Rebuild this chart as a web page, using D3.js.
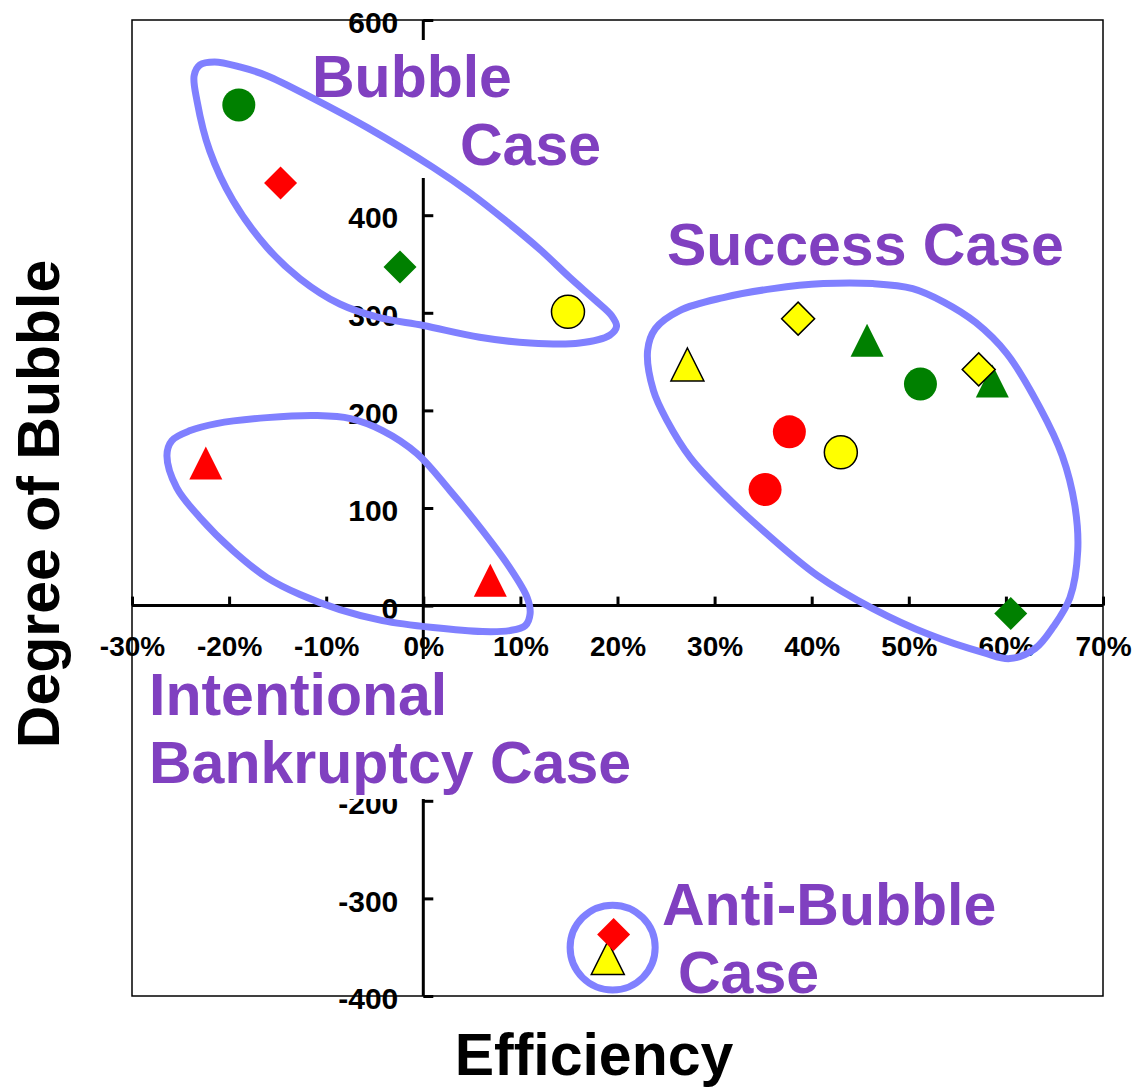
<!DOCTYPE html>
<html><head><meta charset="utf-8">
<script src="https://cdn.jsdelivr.net/npm/d3@7"></script>
<style>body{margin:0;background:#fff}</style>
</head><body>
<svg id="chart" width="1135" height="1088"></svg>
<script>
// ---------- data ----------
const xTicks = [-0.3,-0.2,-0.1,0,0.1,0.2,0.3,0.4,0.5,0.6,0.7];
const xTickLabels = ["-30%","-20%","-10%","0%","10%","20%","30%","40%","50%","60%","70%"];
const yTicks = [600,500,400,300,200,100,0,-100,-200,-300,-400];
const yTickLabels = ["600","500","400","300","200","100","0","-100","-200","-300","-400"];

// [efficiency, degree of bubble]
const yellowTriangle = [[0.272,247],[0.190,-361]];
const greenTriangle  = [[0.457,272],[0.586,230]];
const redTriangle    = [[-0.224,146],[0.069,26]];
const redCircle      = [[0.377,178],[0.352,119]];
const greenCircle    = [[-0.190,513],[0.512,227]];
const yellowCircle   = [[0.149,301],[0.430,157]];
const redDiamond     = [[-0.147,433],[0.196,-337]];
const greenDiamond   = [[-0.024,347],[0.605,-8]];
const yellowDiamond  = [[0.386,294],[0.572,242]];

// annotation outlines, [efficiency %, degree]
const bubbleOutline = [[-23.6,543],[-23.0,554],[-21.5,557],[-18.9,552],[-16.1,543],[-11.4,520],[-5.8,490],[1.0,449],[4.8,423],[8.4,395],[12.0,365],[15.1,336],[17.7,313],[19.4,297],[19.9,286],[19.2,277],[16.1,269],[11.0,269],[5.8,275],[0,287],[-4.5,295],[-8.6,309],[-12.7,335],[-16.1,367],[-19.6,415],[-22.0,466],[-23.3,517]];
const bankruptOutline = [[-26.4,153.7],[-25.9,169],[-24.0,179.3],[-21.3,186.5],[-16.1,192.6],[-10.9,194.7],[-7.5,191.6],[-4.2,179.3],[-0.65,155.7],[2.75,117.8],[6.1,76.8],[8.9,38.9],[10.7,8.2],[11.0,-8.2],[10.5,-20.5],[8.9,-25.6],[6.1,-26.6],[1.0,-22.5],[-4.2,-15.4],[-8.6,-4.1],[-12.7,11.3],[-16.1,28.7],[-19.6,56.4],[-23.0,90.2],[-25.4,120.9]];
const successOutline = [[23.1,261.3],[23.9,283.8],[26.4,302.3],[30.9,315.6],[36.0,324.8],[41.2,329.9],[46.3,329.9],[50.4,324.8],[53.6,311],[56.9,290],[60.1,258.2],[63.5,202.9],[65.8,153.7],[67.1,102.5],[67.4,56.4],[66.6,8.2],[64.9,-21.5],[63.0,-44.1],[60.4,-54.3],[57.7,-48.2],[52.1,-29.7],[46.3,-3.1],[40.6,30.7],[35.0,76.8],[30.9,114.8],[27.5,151.6],[25.1,189.5],[23.7,220.3]];
const antiBubbleCircle = [19.5, -350.4, 4.38, 43.5]; // cx %, cy, rx %, ry

const labelTexts = ["Bubble","Case","Success Case","Intentional","Bankruptcy Case","Anti-Bubble","Case"];

// ---------- layout ----------
const svg = d3.select("#chart");
const FONT = "'Liberation Sans', Arial, Helvetica, sans-serif";
const x = d3.scaleLinear().domain([-0.3,0.7]).range([132,1103]);
const y = d3.scaleLinear().domain([-400,600]).range([996,20]);

// frame
svg.append("rect").attr("x",x(-0.3)).attr("y",y(600))
  .attr("width",x(0.7)-x(-0.3)).attr("height",y(-400)-y(600))
  .attr("fill","none").attr("stroke","#000").attr("stroke-width",1.5);

// x axis
const gx = svg.append("g").attr("transform",`translate(0,${y(0)})`)
  .call(d3.axisBottom(x).tickValues(xTicks).tickFormat((d,i)=>xTickLabels[i])
    .tickSizeInner(-9).tickSizeOuter(0).tickPadding(31));
gx.select(".domain").remove();
gx.selectAll(".tick line").attr("stroke","#000").attr("stroke-width",3);
gx.selectAll(".tick text").attr("fill","#000").style("font-family",FONT)
  .style("font-weight","bold").style("font-size","28px");

// y axis
const gy = svg.append("g").attr("transform",`translate(${x(0)},0)`)
  .call(d3.axisLeft(y).tickValues(yTicks).tickFormat((d,i)=>yTickLabels[i])
    .tickSizeInner(-10).tickSizeOuter(0).tickPadding(25));
gy.select(".domain").remove();
gy.selectAll(".tick line").attr("stroke","#000").attr("stroke-width",3);
gy.selectAll(".tick text").attr("fill","#000").attr("dy","0.42em").style("font-family",FONT)
  .style("font-weight","bold").style("font-size","30px");

// axis lines (on top of tick labels)
svg.append("line").attr("x1",x(-0.3)).attr("x2",x(0.7)).attr("y1",y(0)).attr("y2",y(0))
  .attr("stroke","#000").attr("stroke-width",3);
svg.append("line").attr("x1",x(0)).attr("x2",x(0)).attr("y1",y(600)).attr("y2",y(-400))
  .attr("stroke","#000").attr("stroke-width",3);

// axis titles
svg.append("text").attr("x",594).attr("y",1075).attr("text-anchor","middle")
  .style("font-family",FONT).style("font-weight","bold").style("font-size","59px")
  .text("Efficiency");
svg.append("text").attr("transform","translate(59,504) rotate(-90)").attr("text-anchor","middle")
  .style("font-family",FONT).style("font-weight","bold").style("font-size","59px")
  .text("Degree of Bubble");

// annotation text boxes
const purple = "#8040C0";
svg.append("rect").attr("x",300).attr("y",40).attr("width",310).attr("height",138).attr("fill","#fff");
svg.append("rect").attr("x",140).attr("y",659).attr("width",505).attr("height",140).attr("fill","#fff");
const labelPos = [[312,97],[460,165],[667,265],[149,715],[149,783],[662,925],[678,993]];
svg.selectAll("text.case").data(labelTexts).join("text").attr("class","case")
  .attr("x",(d,i)=>labelPos[i][0]).attr("y",(d,i)=>labelPos[i][1])
  .attr("fill",purple).style("font-family",FONT).style("font-weight","bold").style("font-size","59px")
  .text(d=>d);

// outlines
const outlineColor = "#8080FF";
const line = d3.line().x(d=>x(d[0]/100)).y(d=>y(d[1])).curve(d3.curveCatmullRomClosed.alpha(0.5));
[bubbleOutline, bankruptOutline, successOutline].forEach(o=>{
  svg.append("path").attr("d",line(o)).attr("fill","none")
    .attr("stroke",outlineColor).attr("stroke-width",7);
});
svg.append("ellipse").attr("cx",x(antiBubbleCircle[0]/100)).attr("cy",y(antiBubbleCircle[1]))
  .attr("rx",x(antiBubbleCircle[2]/100)-x(0)).attr("ry",y(0)-y(antiBubbleCircle[3]))
  .attr("fill","none").attr("stroke",outlineColor).attr("stroke-width",7);

// markers
const M = 33;
const shapes = {
  circle: d3.symbol(d3.symbolCircle, Math.PI*(M/2)*(M/2))(),
  diamond: d3.symbol(d3.symbolSquare, (M/Math.SQRT2)*(M/Math.SQRT2))(),
  triangle: `M0,${-M/2}L${M/2},${M/2}L${-M/2},${M/2}Z`
};
const series = [
  {data:yellowTriangle, shape:"triangle", color:"#FFFF00", stroke:true},
  {data:greenTriangle,  shape:"triangle", color:"#008000", stroke:false},
  {data:redTriangle,    shape:"triangle", color:"#FF0000", stroke:false},
  {data:redCircle,      shape:"circle",   color:"#FF0000", stroke:false},
  {data:greenCircle,    shape:"circle",   color:"#008000", stroke:false},
  {data:yellowCircle,   shape:"circle",   color:"#FFFF00", stroke:true},
  {data:redDiamond,     shape:"diamond",  color:"#FF0000", stroke:false},
  {data:greenDiamond,   shape:"diamond",  color:"#008000", stroke:false},
  {data:yellowDiamond,  shape:"diamond",  color:"#FFFF00", stroke:true}
];
series.forEach(s=>{
  svg.append("g").selectAll("path").data(s.data).join("path")
    .attr("d",shapes[s.shape])
    .attr("transform",d=>`translate(${x(d[0])},${y(d[1])})` + (s.shape==="diamond"?" rotate(45)":""))
    .attr("fill",s.color)
    .attr("stroke",s.stroke?"#000":"none").attr("stroke-width",1.5);
});
</script>
</body></html>
